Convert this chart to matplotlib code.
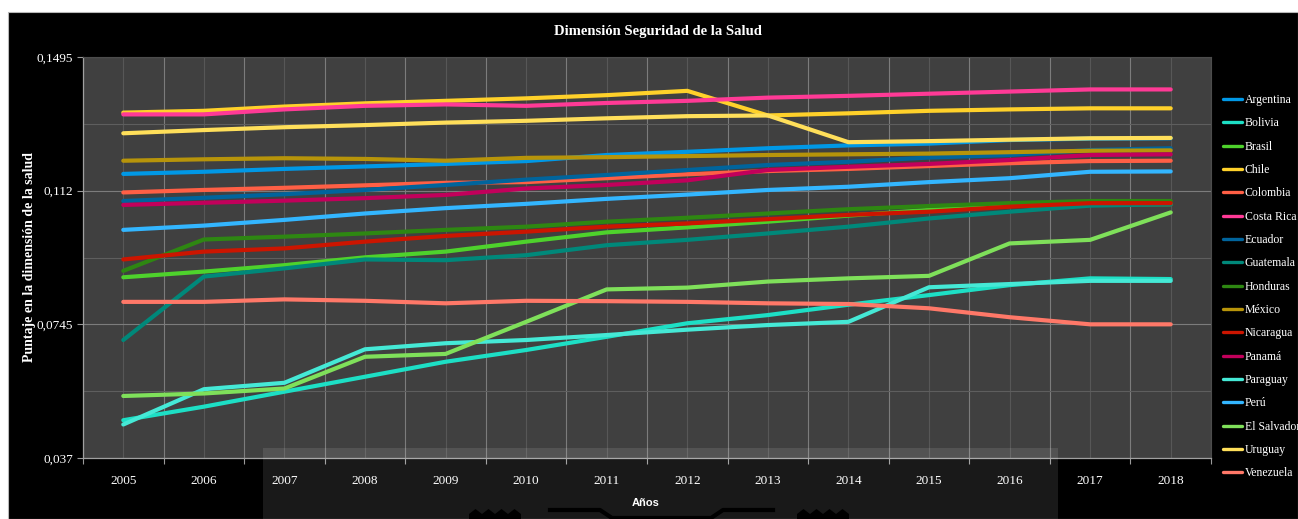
import matplotlib
matplotlib.use("Agg")
import matplotlib.pyplot as plt
from matplotlib.patches import Rectangle, Polygon
from matplotlib.lines import Line2D
from matplotlib import font_manager

# ---- data -------------------------------------------------------------
years = list(range(2005, 2019))

argentina   = [0.1167, 0.1173, 0.1181, 0.1188, 0.1195, 0.1203, 0.1220, 0.1229, 0.1239, 0.1247, 0.1252, 0.1262, 0.1266, 0.1267]
bolivia     = [0.0476, 0.0514, 0.0556, 0.0598, 0.0640, 0.0673, 0.0710, 0.0748, 0.0771, 0.0800, 0.0827, 0.0855, 0.0874, 0.0872]
brasil      = [0.0877, 0.0893, 0.0911, 0.0933, 0.0949, 0.0977, 0.1003, 0.1017, 0.1033, 0.1050, 0.1066, 0.1077, 0.1082, 0.1082]
chile       = [0.1339, 0.1344, 0.1356, 0.1365, 0.1372, 0.1379, 0.1388, 0.1400, 0.1331, 0.1337, 0.1344, 0.1348, 0.1351, 0.1351]
colombia    = [0.1115, 0.1122, 0.1128, 0.1135, 0.1142, 0.1144, 0.1155, 0.1166, 0.1175, 0.1181, 0.1189, 0.1197, 0.1203, 0.1204]
costa_rica  = [0.1334, 0.1334, 0.1348, 0.1358, 0.1362, 0.1358, 0.1366, 0.1372, 0.1381, 0.1386, 0.1392, 0.1398, 0.1404, 0.1404]
ecuador     = [0.1091, 0.1100, 0.1110, 0.1122, 0.1136, 0.1151, 0.1164, 0.1178, 0.1192, 0.1201, 0.1213, 0.1220, 0.1234, 0.1239]
guatemala   = [0.0701, 0.0879, 0.0902, 0.0927, 0.0925, 0.0939, 0.0967, 0.0982, 0.1000, 0.1019, 0.1042, 0.1061, 0.1078, 0.1082]
honduras    = [0.0895, 0.0983, 0.0991, 0.1000, 0.1010, 0.1019, 0.1033, 0.1044, 0.1056, 0.1068, 0.1077, 0.1085, 0.1091, 0.1091]
mexico      = [0.1204, 0.1208, 0.1211, 0.1209, 0.1204, 0.1212, 0.1214, 0.1217, 0.1220, 0.1222, 0.1224, 0.1228, 0.1232, 0.1233]
nicaragua   = [0.0927, 0.0949, 0.0958, 0.0977, 0.0993, 0.1005, 0.1019, 0.1028, 0.1040, 0.1052, 0.1061, 0.1075, 0.1085, 0.1085]
panama      = [0.1080, 0.1086, 0.1092, 0.1099, 0.1108, 0.1126, 0.1136, 0.1149, 0.1178, 0.1187, 0.1195, 0.1206, 0.1220, 0.1222]
paraguay    = [0.0464, 0.0563, 0.0581, 0.0675, 0.0692, 0.0701, 0.0715, 0.0730, 0.0743, 0.0752, 0.0849, 0.0858, 0.0867, 0.0867]
peru        = [0.1010, 0.1022, 0.1038, 0.1056, 0.1071, 0.1083, 0.1097, 0.1109, 0.1122, 0.1131, 0.1144, 0.1155, 0.1173, 0.1174]
el_salvador = [0.0544, 0.0551, 0.0565, 0.0654, 0.0662, 0.0752, 0.0843, 0.0848, 0.0865, 0.0874, 0.0881, 0.0972, 0.0982, 0.1059]
uruguay     = [0.1281, 0.1290, 0.1298, 0.1304, 0.1311, 0.1316, 0.1323, 0.1329, 0.1331, 0.1256, 0.1259, 0.1263, 0.1267, 0.1268]
venezuela   = [0.0808, 0.0808, 0.0815, 0.0811, 0.0804, 0.0811, 0.0810, 0.0808, 0.0804, 0.0802, 0.0790, 0.0765, 0.0745, 0.0745]

countries = ["Argentina", "Bolivia", "Brasil", "Chile", "Colombia", "Costa Rica",
             "Ecuador", "Guatemala", "Honduras", "México", "Nicaragua", "Panamá",
             "Paraguay", "Perú", "El Salvador", "Uruguay", "Venezuela"]
values = [argentina, bolivia, brasil, chile, colombia, costa_rica, ecuador,
          guatemala, honduras, mexico, nicaragua, panama, paraguay, peru,
          el_salvador, uruguay, venezuela]
colors = ["#0098e6", "#1ddfc5", "#4ed22c", "#ffd12a", "#ff5f45", "#ff3a96",
          "#00649c", "#00887a", "#2e8712", "#b7940a", "#cc1500", "#c2005b",
          "#45e9d6", "#33b6ff", "#7fe05a", "#ffdf5a", "#ff7868"]

y_ticks = [0.037, 0.0745, 0.112, 0.1495]
y_tick_labels = ["0,037", "0,0745", "0,112", "0,1495"]
y_minor = [0.05575, 0.09325, 0.13075]

title = "Dimensión Seguridad de la Salud"
y_title = "Puntaje en la dimensión de la salud"
x_title = "Años"

# ---- figure -----------------------------------------------------------
W, H = 1298, 519
plt.rcParams["font.family"] = ["Liberation Serif", "DejaVu Serif"]

def fx(x):
    return x / W

def fy(y):
    return 1 - y / H

fig = plt.figure(figsize=(W / 100, H / 100), dpi=100, facecolor="white")

# black chart frame
fig.add_artist(Rectangle((fx(8), 0), 1 - fx(8), fy(12), transform=fig.transFigure,
                         facecolor="black", edgecolor="#b8b8b8", linewidth=0.8,
                         zorder=-10))

ax = fig.add_axes([fx(83), fy(458), fx(1211) - fx(83), fy(57) - fy(458)])
ax.set_facecolor("#404040")

for name, vals, col in zip(countries, values, colors):
    ax.plot(years, vals, color=col, lw=3.0, label=name,
            solid_capstyle="round", solid_joinstyle="round", zorder=3)

ax.set_xlim(years[0] - 0.5, years[-1] + 0.5)
ax.set_ylim(y_ticks[0], y_ticks[-1])

# x: labels at categories, tick marks at category boundaries
ax.set_xticks(years)
ax.set_xticklabels([str(y) for y in years])
ax.set_xticks([y - 0.5 for y in years] + [years[-1] + 0.5], minor=True)
ax.tick_params(axis="x", which="major", length=0, pad=12, labelsize=9.5,
               labelcolor="white")
ax.tick_params(axis="x", which="minor", length=4, width=0.8, color="#9a9a9a",
               direction="out")

ax.set_yticks(y_ticks)
ax.set_yticklabels(y_tick_labels)
ax.set_yticks(y_minor, minor=True)
ax.tick_params(axis="y", which="major", length=4, width=0.8, color="#9a9a9a",
               pad=3, labelsize=9.5, labelcolor="white")
ax.tick_params(axis="y", which="minor", length=0)

ax.grid(True, axis="x", which="major", color="#575757", lw=0.8, zorder=1)
ax.grid(True, axis="x", which="minor", color="#7c7c7c", lw=0.8, zorder=1)
ax.grid(True, axis="y", which="major", color="#7c7c7c", lw=0.8, zorder=1)
ax.grid(True, axis="y", which="minor", color="#5e5e5e", lw=0.8, zorder=1)
ax.set_axisbelow(True)

for side in ("left", "bottom"):
    ax.spines[side].set_color("#a0a0a0")
    ax.spines[side].set_linewidth(0.9)
for side in ("top", "right"):
    ax.spines[side].set_color("#4c4c4c")
    ax.spines[side].set_linewidth(0.8)

# titles
fig.text(fx(658), fy(31), title, color="white", fontsize=10.5,
         fontweight="bold", ha="center", va="center")
fig.text(fx(30), fy(257), y_title, color="white", fontsize=10,
         fontweight="bold", rotation=90, ha="center", va="center")

sans_narrow = "Liberation Sans Narrow"
try:
    font_manager.findfont(sans_narrow, fallback_to_default=False)
except Exception:
    sans_narrow = "Liberation Sans"
fig.text(fx(646), fy(503), x_title, color="white", fontsize=8,
         fontweight="bold", family=[sans_narrow, "DejaVu Sans"],
         ha="center", va="center")

# legend
handles, labels = ax.get_legend_handles_labels()
leg = fig.legend(handles, labels, loc="upper left",
                 bbox_to_anchor=(fx(1223), fy(94)), frameon=False,
                 fontsize=8.5, handlelength=1.6, handletextpad=0.25,
                 labelspacing=0.96, borderpad=0, borderaxespad=0)
for t in leg.get_texts():
    t.set_color("white")
for h in leg.legend_handles:
    h.set_linewidth(2.4)

# translucent band across the bottom
fig.add_artist(Rectangle((fx(263), 0), fx(1058) - fx(263), fy(448),
                         transform=fig.transFigure, facecolor="white",
                         alpha=0.10, edgecolor="none", zorder=20))

# small dark emblem shapes at the foot
def zigzag(x0, x1, ytop, ybot, n=4):
    pts = []
    step = (x1 - x0) / n
    for i in range(n):
        pts.append((fx(x0 + i * step), fy(ybot)))
        pts.append((fx(x0 + (i + 0.5) * step), fy(ytop)))
    pts.append((fx(x1), fy(ybot)))
    pts.append((fx(x1), fy(H)))
    pts.append((fx(x0), fy(H)))
    return pts

for a, b in ((469, 521), (797, 849)):
    fig.add_artist(Polygon(zigzag(a, b, 509, 514), closed=True,
                           transform=fig.transFigure, facecolor="black",
                           edgecolor="none", zorder=21))

fig.add_artist(Line2D([fx(550), fx(600), fx(612), fx(711), fx(723), fx(773)],
                      [fy(510), fy(510), fy(518), fy(518), fy(510), fy(510)],
                      transform=fig.transFigure, color="black", lw=3,
                      zorder=21))

fig.savefig("out.png", dpi=100, facecolor=fig.get_facecolor())
